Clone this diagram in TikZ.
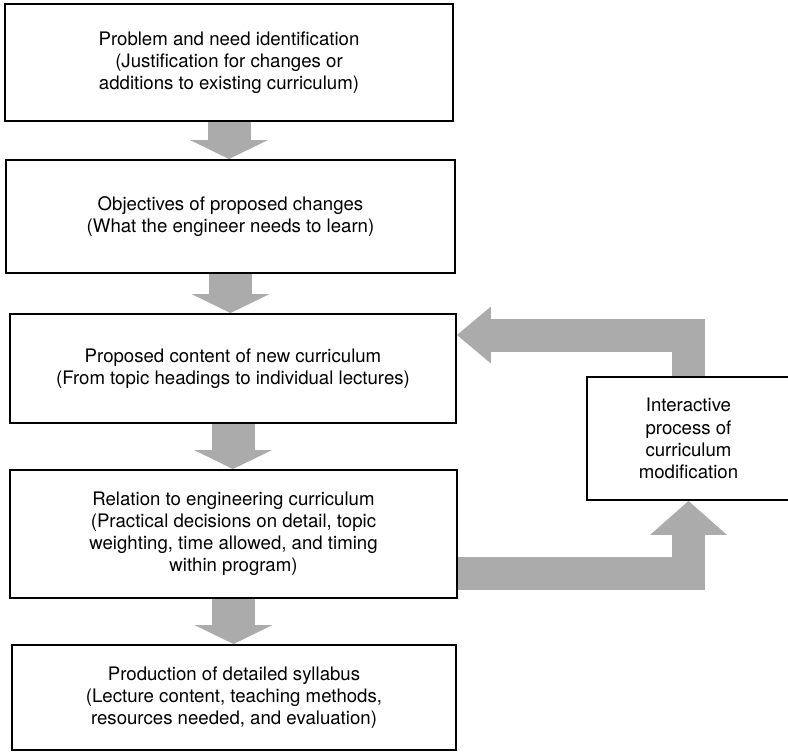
\documentclass[tikz,border=0pt]{standalone}
\usepackage{fontspec}
\setmainfont{TeX Gyre Heros}
\usetikzlibrary{arrows.meta}

\begin{document}
\begin{tikzpicture}[
    font=\fontsize{10.6}{12.6}\selectfont,
    box/.style={draw=black, line width=1.1pt, align=center, inner sep=4pt},
    flow/.style={draw=black!33, line width=0.86cm,
      -{Triangle[width=1.56cm, length=0.38cm, line width=0pt]}},
    back/.style={draw=black!33, line width=0.66cm,
      -{Triangle[width=#1, length=0.68cm, line width=0pt]}}
  ]
    \useasboundingbox (0,0) rectangle (15.76,-15.04);

    \node[box, minimum width=8.96cm, minimum height=2.34cm] (need) at (4.58,-1.25)
      {Problem and need identification\\(Justification for changes or\\additions to existing curriculum)};
    \node[box, minimum width=8.98cm, minimum height=2.26cm] (objectives) at (4.61,-4.33)
      {Objectives of proposed changes\\(What the engineer needs to learn)};
    \node[box, minimum width=8.92cm, minimum height=2.18cm] (content) at (4.66,-7.37)
      {Proposed content of new curriculum\\(From topic headings to individual lectures)};
    \node[box, minimum width=8.94cm, minimum height=2.56cm] (relation) at (4.67,-10.68)
      {Relation to engineering curriculum\\(Practical decisions on detail, topic\\weighting, time allowed, and timing\\within program)};
    \node[box, minimum width=8.88cm, minimum height=2.10cm] (syllabus) at (4.68,-13.95)
      {Production of detailed syllabus\\(Lecture content, teaching methods,\\resources needed, and evaluation)};

    \node[box, minimum width=4.06cm, minimum height=2.46cm] (loop) at (13.77,-8.77)
      {Interactive\\process of\\curriculum\\modification};

    % main sequence
    \draw[flow] (need.south) -- (need.south |- objectives.north);
    \draw[flow] (objectives.south) -- (objectives.south |- content.north);
    \draw[flow] (content.south) -- (content.south |- relation.north);
    \draw[flow] (relation.south) -- (relation.south |- syllabus.north);

    % feedback loop
    \draw[back=1.54cm] ([yshift=-0.78cm]relation.east) -| (loop.south);
    \draw[back=1.14cm] (loop.north) |- ([yshift=0.67cm]content.east);
  \end{tikzpicture}
\end{document}
